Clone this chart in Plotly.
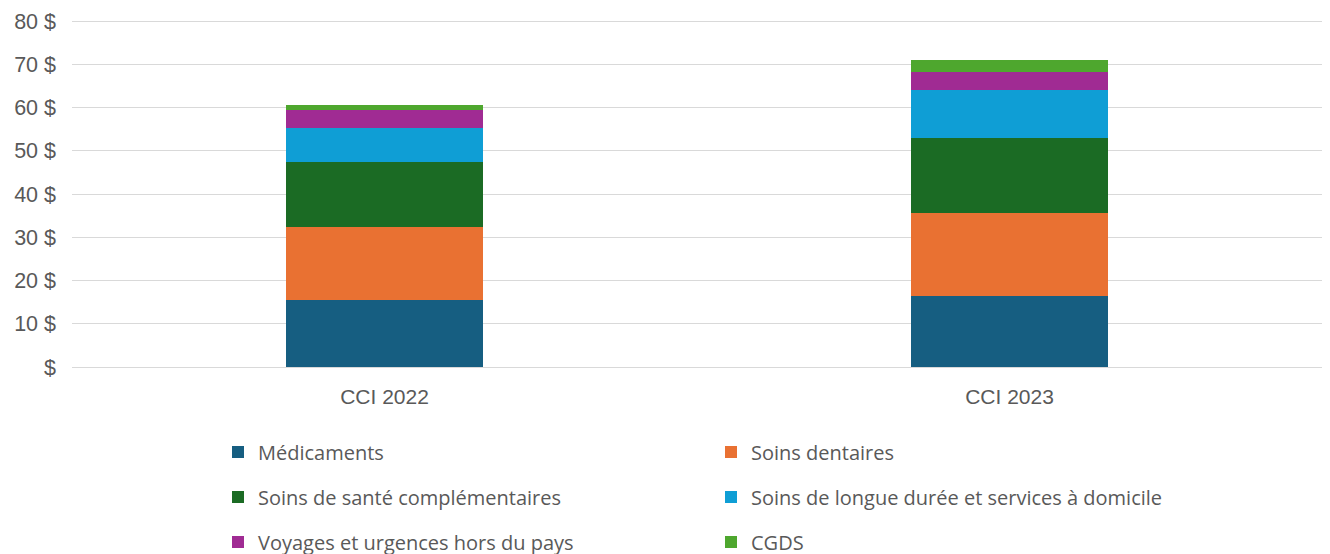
import plotly.graph_objects as go

categories = ["CCI 2022", "CCI 2023"]
series_names = [
    "Médicaments",
    "Soins dentaires",
    "Soins de santé complémentaires",
    "Soins de longue durée et services à domicile",
    "Voyages et urgences hors du pays",
    "CGDS",
]
medicaments = [15.5, 16.4]
soins_dentaires = [16.9, 19.2]
soins_complementaires = [15.1, 17.3]
longue_duree = [7.8, 11.2]
voyages = [4.1, 4.2]
cgds = [1.2, 2.7]

tick_values = [0, 10, 20, 30, 40, 50, 60, 70, 80]
tick_labels = ["$", "10 $", "20 $", "30 $", "40 $", "50 $", "60 $", "70 $", "80 $"]

colors = ["#165E81", "#E97132", "#1B6B24", "#0F9ED5", "#A02B93", "#4EA72E"]
values = [medicaments, soins_dentaires, soins_complementaires, longue_duree, voyages, cgds]
legend_ids = ["legend", "legend", "legend2", "legend2", "legend3", "legend3"]

LEG_FONT = "Open Sans, Lato, sans-serif"
TICK_FONT = "Liberation Sans, Arial, sans-serif"
fig = go.Figure()
for name, vals, col, lg in zip(series_names, values, colors, legend_ids):
    fig.add_trace(go.Bar(
        x=categories, y=vals, name=name, marker=dict(color=col, line=dict(width=0)),
        legend=lg,
    ))

# page body has an 8px margin; figure coordinates are offset by it
OFF = 8
W, H = 1330 - OFF, 554 - OFF
Y_TOP = 80.3
PX_PER_UNIT = 345.2 / 80
L, R = 72 - OFF, W - (1322 - OFF)
T = (21.5 - (Y_TOP - 80) * PX_PER_UNIT) - OFF
B = H - (366.7 - OFF)

def ycont(pix):
    return 1 - (pix - OFF) / H

leg_common = dict(orientation="h", xanchor="left", yanchor="middle", xref="container", yref="container",
                  x=(232 - OFF - 14) / W, entrywidth=448, entrywidthmode="pixels", traceorder="normal",
                  font=dict(family=LEG_FONT, size=20, color="#595959"), bgcolor="rgba(0,0,0,0)")

fig.update_layout(
    width=W, height=H,
    margin=dict(l=L, r=R, t=T, b=B, autoexpand=False),
    barmode="stack", bargap=0.686,
    plot_bgcolor="white", paper_bgcolor="white",
    font=dict(family=TICK_FONT, color="#595959"),
    legend=dict(**leg_common, y=ycont(452)),
    legend2=dict(**leg_common, y=ycont(497)),
    legend3=dict(**leg_common, y=ycont(542)),
    xaxis=dict(showgrid=False, showline=False, ticks="", automargin=False,
               tickfont=dict(size=21, color="#595959", family=TICK_FONT),
               ticklabelstandoff=15),
    yaxis=dict(range=[0, Y_TOP], tickvals=tick_values, ticktext=tick_labels, showgrid=True, automargin=False,
               gridcolor="#D9D9D9", gridwidth=1, zeroline=True, zerolinecolor="#D9D9D9", zerolinewidth=1,
               showline=False, ticks="", tickfont=dict(size=21.5, color="#595959", family=TICK_FONT),
               ticklabelstandoff=15),
)

fig.write_html("out.html")
